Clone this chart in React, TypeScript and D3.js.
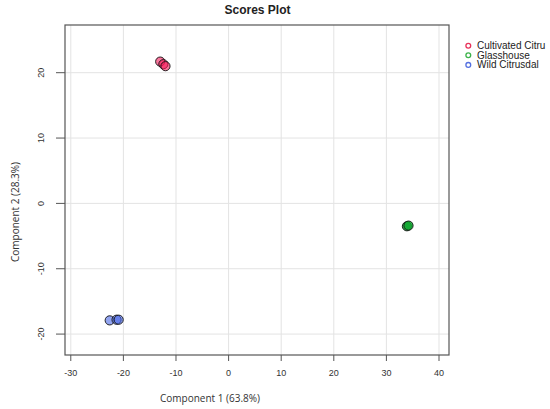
import { useEffect, useRef } from "react";
import * as d3 from "d3";

// groups and their scores (component 1, component 2)
const groups = ["Cultivated Citrusdal", "Glasshouse", "Wild Citrusdal"];
const legendLabels = ["Cultivated Citru", "Glasshouse", "Wild Citrusdal"];
const cultivatedX = [-13.0, -12.4, -12.0];
const cultivatedY = [21.7, 21.3, 21.0];
const glasshouseX = [33.9, 34.2];
const glasshouseY = [-3.5, -3.4];
const wildX = [-22.6, -21.3, -20.9];
const wildY = [-17.9, -17.8, -17.8];
const xTicks = [-30, -20, -10, 0, 10, 20, 30, 40];
const yTicks = [-20, -10, 0, 10, 20];

const fills = ["#f5195a", "#10a830", "#4a68e6"];
const legendStrokes = ["#e8325a", "#3cb34a", "#5470e0"];

function App() {
  const svgRef = useRef<SVGSVGElement | null>(null);
  const width = 550;
  const height = 409;
  const left = 65;
  const right = 449;
  const top = 25;
  const bottom = 355;

  useEffect(() => {
    const svg = d3.select(svgRef.current);
    svg.selectAll("*").remove();

    const xScale = d3.scaleLinear().domain([-31.1, 41.9]).range([left, right]);
    const yScale = d3.scaleLinear().domain([-23.2, 27.3]).range([bottom, top]);

    // grid
    xTicks.forEach((t) => {
      svg
        .append("line")
        .attr("x1", xScale(t))
        .attr("x2", xScale(t))
        .attr("y1", top)
        .attr("y2", bottom)
        .attr("stroke", "#e3e3e3")
        .attr("stroke-width", 1);
    });
    yTicks.forEach((t) => {
      svg
        .append("line")
        .attr("x1", left)
        .attr("x2", right)
        .attr("y1", yScale(t))
        .attr("y2", yScale(t))
        .attr("stroke", "#e3e3e3")
        .attr("stroke-width", 1);
    });

    // box
    svg
      .append("rect")
      .attr("x", left)
      .attr("y", top)
      .attr("width", right - left)
      .attr("height", bottom - top)
      .attr("fill", "none")
      .attr("stroke", "#555")
      .attr("stroke-width", 1.2);

    // x axis ticks
    xTicks.forEach((t) => {
      svg
        .append("line")
        .attr("x1", xScale(t))
        .attr("x2", xScale(t))
        .attr("y1", bottom)
        .attr("y2", bottom + 6)
        .attr("stroke", "#555");
      svg
        .append("text")
        .attr("x", xScale(t))
        .attr("y", 375.5)
        .attr("text-anchor", "middle")
        .attr("font-family", "Liberation Sans, Arial, sans-serif")
        .attr("font-size", 9)
        .attr("fill", "#333")
        .text(t);
    });

    // y axis ticks
    yTicks.forEach((t) => {
      svg
        .append("line")
        .attr("x1", left - 9)
        .attr("x2", left)
        .attr("y1", yScale(t))
        .attr("y2", yScale(t))
        .attr("stroke", "#555");
      svg
        .append("text")
        .attr("transform", `translate(44, ${yScale(t)}) rotate(-90)`)
        .attr("text-anchor", "middle")
        .attr("font-family", "Liberation Sans, Arial, sans-serif")
        .attr("font-size", 9)
        .attr("fill", "#333")
        .text(t);
    });

    // titles
    svg
      .append("text")
      .attr("x", 257.5)
      .attr("y", 13.5)
      .attr("text-anchor", "middle")
      .attr("font-family", "Liberation Sans, Arial, sans-serif")
      .attr("font-weight", "bold")
      .attr("font-size", 12)
      .attr("fill", "#222")
      .text("Scores Plot");

    svg
      .append("text")
      .attr("x", 210)
      .attr("y", 402)
      .attr("text-anchor", "middle")
      .attr("font-family", "Open Sans, sans-serif")
      .attr("font-size", 10)
      .attr("fill", "#333")
      .text("Component 1 (63.8%)");

    svg
      .append("text")
      .attr("transform", "translate(19, 212) rotate(-90)")
      .attr("text-anchor", "middle")
      .attr("font-family", "Open Sans, sans-serif")
      .attr("font-size", 10)
      .attr("fill", "#333")
      .text("Component 2 (28.3%)");

    // points
    const series = [
      { xs: cultivatedX, ys: cultivatedY },
      { xs: glasshouseX, ys: glasshouseY },
      { xs: wildX, ys: wildY },
    ];
    series.forEach((s, gi) => {
      s.xs.forEach((x, i) => {
        svg
          .append("circle")
          .attr("cx", xScale(x))
          .attr("cy", yScale(s.ys[i]))
          .attr("r", 4.6)
          .attr("fill", fills[gi])
          .attr("fill-opacity", gi == 1 ? 0.85 : 0.6)
          .attr("stroke", "#111")
          .attr("stroke-width", 0.9);
      });
    });

    // legend
    groups.forEach((g, i) => {
      const y = 45.7 + i * 9.6;
      svg
        .append("circle")
        .attr("cx", 468.3)
        .attr("cy", y)
        .attr("r", 2.4)
        .attr("fill", "none")
        .attr("stroke", legendStrokes[i])
        .attr("stroke-width", 1.3);
      svg
        .append("text")
        .attr("x", 477)
        .attr("y", y + 3.5)
        .attr("font-family", "Liberation Sans, Arial, sans-serif")
        .attr("font-size", 10)
        .attr("fill", "#222")
        .text(legendLabels[i]);
    });
  }, []);

  return (
    <svg
      ref={svgRef}
      width={width}
      height={height}
      style={{ position: "absolute", left: 0, top: 0, background: "#fff" }}
    ></svg>
  );
}

export default App;
